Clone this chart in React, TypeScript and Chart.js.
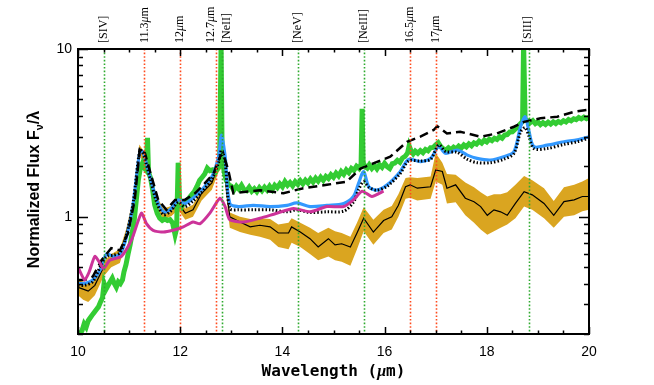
import React, { useEffect, useRef } from 'react';
import { Chart, registerables } from 'chart.js';

Chart.register(...registerables);

// ---------- data ----------
const bandWl = [10.0, 10.1, 10.2, 10.33, 10.5, 10.65, 10.82, 10.95, 11.08, 11.2, 11.34, 11.5, 11.67, 11.83, 11.96, 12.1, 12.25, 12.42, 12.62, 12.75, 12.84, 12.97, 13.17, 13.37, 13.56, 13.76, 13.92, 14.12, 14.18, 14.35, 14.54, 14.7, 14.9, 15.03, 15.16, 15.33, 15.46, 15.59, 15.78, 15.98, 16.14, 16.27, 16.41, 16.5, 16.64, 16.9, 17.0, 17.13, 17.22, 17.39, 17.58, 17.75, 17.88, 18.01, 18.14, 18.27, 18.4, 18.56, 18.73, 18.89, 19.12, 19.31, 19.51, 19.71, 19.87, 20.0];
const bandMid = [0.38, 0.37, 0.36, 0.39, 0.5, 0.56, 0.6, 0.8, 1.2, 2.55, 2.2, 1.32, 1.05, 1.1, 1.2, 1.05, 1.1, 1.38, 1.59, 2.05, 2.18, 1.0, 0.93, 0.87, 0.89, 0.87, 0.8, 0.8, 0.87, 0.81, 0.74, 0.66, 0.74, 0.68, 0.69, 0.66, 0.8, 0.98, 0.81, 0.95, 1.0, 1.17, 1.51, 1.55, 1.48, 1.51, 1.9, 1.86, 1.48, 1.55, 1.29, 1.23, 1.15, 1.02, 1.1, 1.07, 1.02, 1.2, 1.41, 1.35, 1.2, 1.02, 1.23, 1.26, 1.32, 1.32];
const bandLow = [0.34, 0.32, 0.31, 0.34, 0.44, 0.5, 0.53, 0.72, 1.08, 2.3, 2.0, 1.2, 0.96, 1.01, 1.1, 0.96, 1.0, 1.25, 1.45, 1.85, 2.0, 0.86, 0.81, 0.78, 0.76, 0.73, 0.66, 0.64, 0.7, 0.66, 0.6, 0.55, 0.58, 0.55, 0.54, 0.51, 0.64, 0.82, 0.68, 0.8, 0.84, 1.0, 1.28, 1.3, 1.25, 1.28, 1.62, 1.55, 1.2, 1.22, 1.02, 0.92, 0.84, 0.78, 0.82, 0.86, 0.9, 0.98, 1.15, 1.1, 0.98, 0.86, 1.0, 1.02, 1.08, 1.1];
const bandHigh = [0.42, 0.41, 0.4, 0.43, 0.54, 0.6, 0.64, 0.86, 1.3, 2.7, 2.32, 1.4, 1.12, 1.16, 1.28, 1.12, 1.18, 1.46, 1.68, 2.18, 2.3, 1.06, 1.0, 0.97, 0.98, 0.97, 0.9, 0.92, 0.98, 0.92, 0.86, 0.8, 0.86, 0.82, 0.8, 0.76, 0.92, 1.14, 0.96, 1.1, 1.16, 1.36, 1.7, 1.72, 1.7, 1.74, 2.4, 2.1, 1.8, 1.78, 1.6, 1.5, 1.4, 1.32, 1.36, 1.36, 1.4, 1.55, 1.75, 1.65, 1.48, 1.24, 1.5, 1.55, 1.62, 1.7];

const greenWl = [10.0, 10.04, 10.08, 10.12, 10.16, 10.2, 10.24, 10.28, 10.32, 10.36, 10.4, 10.44, 10.48, 10.51, 10.55, 10.59, 10.63, 10.67, 10.71, 10.75, 10.79, 10.83, 10.87, 10.9, 10.94, 10.98, 11.02, 11.06, 11.1, 11.14, 11.18, 11.22, 11.26, 11.3, 11.33, 11.36, 11.38, 11.42, 11.46, 11.5, 11.55, 11.6, 11.65, 11.7, 11.75, 11.8, 11.85, 11.9, 11.93, 11.96, 11.99, 12.03, 12.08, 12.13, 12.18, 12.23, 12.28, 12.33, 12.38, 12.43, 12.48, 12.53, 12.58, 12.63, 12.68, 12.73, 12.77, 12.8, 12.82, 12.86, 12.9, 12.95, 13.0, 13.05, 13.1, 13.15, 13.2, 13.25, 13.3, 13.35, 13.4, 13.45, 13.5, 13.55, 13.6, 13.65, 13.7, 13.75, 13.8, 13.85, 13.9, 13.95, 14.0, 14.05, 14.1, 14.15, 14.2, 14.25, 14.3, 14.35, 14.4, 14.45, 14.5, 14.55, 14.6, 14.65, 14.7, 14.75, 14.8, 14.85, 14.9, 14.95, 15.0, 15.05, 15.1, 15.15, 15.2, 15.25, 15.3, 15.35, 15.4, 15.45, 15.5, 15.54, 15.56, 15.58, 15.62, 15.66, 15.7, 15.75, 15.8, 15.85, 15.9, 15.95, 16.0, 16.05, 16.1, 16.15, 16.2, 16.25, 16.3, 16.35, 16.4, 16.45, 16.48, 16.52, 16.56, 16.6, 16.65, 16.7, 16.75, 16.8, 16.85, 16.9, 16.95, 17.0, 17.05, 17.1, 17.15, 17.2, 17.25, 17.3, 17.35, 17.4, 17.45, 17.5, 17.55, 17.6, 17.65, 17.7, 17.75, 17.8, 17.85, 17.9, 17.95, 18.0, 18.05, 18.1, 18.15, 18.2, 18.25, 18.3, 18.35, 18.4, 18.45, 18.5, 18.55, 18.6, 18.65, 18.7, 18.72, 18.75, 18.8, 18.85, 18.9, 18.95, 19.0, 19.05, 19.1, 19.15, 19.2, 19.25, 19.3, 19.35, 19.4, 19.45, 19.5, 19.55, 19.6, 19.65, 19.7, 19.75, 19.8, 19.85, 19.9, 19.95, 20.0];
const greenFlux = [0.19, 0.2, 0.21, 0.23, 0.22, 0.24, 0.25, 0.26, 0.27, 0.28, 0.29, 0.31, 0.33, 0.4, 0.37, 0.39, 0.41, 0.43, 0.4, 0.38, 0.41, 0.4, 0.42, 0.47, 0.52, 0.6, 0.68, 0.8, 0.95, 1.25, 1.65, 1.95, 2.08, 1.95, 1.9, 2.95, 1.85, 1.7, 1.45, 1.18, 1.05, 0.98, 0.95, 0.97, 0.95, 0.96, 0.92, 0.78, 0.85, 2.1, 1.2, 1.15, 1.22, 1.25, 1.3, 1.36, 1.42, 1.52, 1.65, 1.72, 1.8, 1.95, 1.88, 1.9, 1.82, 1.95, 2.0, 10.5, 2.4, 1.85, 1.65, 1.55, 1.52, 1.44, 1.52, 1.46, 1.54, 1.45, 1.43, 1.5, 1.42, 1.47, 1.41, 1.49, 1.43, 1.5, 1.44, 1.52, 1.45, 1.54, 1.49, 1.57, 1.51, 1.62, 1.54, 1.6, 1.53, 1.62, 1.56, 1.64, 1.57, 1.65, 1.59, 1.68, 1.61, 1.7, 1.63, 1.72, 1.65, 1.74, 1.69, 1.78, 1.72, 1.82, 1.75, 1.86, 1.79, 1.9, 1.83, 1.94, 1.89, 2.0, 1.94, 2.06, 4.4, 2.1, 1.99, 1.95, 2.04, 1.94, 2.02, 1.93, 2.04, 1.97, 2.08, 1.99, 1.94, 2.07, 2.09, 2.17, 2.11, 2.24, 2.29, 2.4, 2.65, 2.46, 2.37, 2.46, 2.39, 2.48, 2.41, 2.52, 2.47, 2.58, 2.59, 2.68, 2.76, 2.62, 2.54, 2.5, 2.58, 2.51, 2.6, 2.54, 2.64, 2.57, 2.68, 2.61, 2.72, 2.65, 2.76, 2.71, 2.82, 2.75, 2.86, 2.79, 2.9, 2.84, 2.94, 2.89, 3.0, 2.94, 3.07, 3.09, 3.2, 3.21, 3.32, 3.41, 3.56, 3.7, 11.0, 3.8, 3.74, 3.64, 3.74, 3.59, 3.68, 3.54, 3.64, 3.55, 3.66, 3.57, 3.68, 3.59, 3.7, 3.63, 3.74, 3.67, 3.8, 3.73, 3.84, 3.79, 3.9, 3.83, 3.92, 3.85, 3.93];

const blueWl = [10.0, 10.13, 10.29, 10.43, 10.56, 10.69, 10.82, 10.95, 11.08, 11.21, 11.27, 11.41, 11.54, 11.67, 11.8, 11.96, 12.09, 12.25, 12.42, 12.62, 12.75, 12.81, 12.88, 12.97, 13.14, 13.43, 13.76, 14.09, 14.28, 14.54, 14.87, 15.2, 15.39, 15.49, 15.59, 15.69, 15.85, 16.05, 16.3, 16.47, 16.7, 16.9, 17.06, 17.19, 17.42, 17.62, 17.81, 18.07, 18.33, 18.53, 18.66, 18.75, 18.82, 18.92, 19.18, 19.51, 19.77, 20.0];
const blueFlux = [0.4, 0.4, 0.42, 0.48, 0.6, 0.58, 0.6, 0.76, 1.2, 2.44, 2.44, 1.73, 1.26, 1.07, 1.1, 1.26, 1.2, 1.29, 1.44, 1.73, 2.28, 3.07, 2.28, 1.2, 1.15, 1.17, 1.15, 1.17, 1.21, 1.15, 1.17, 1.2, 1.32, 1.58, 1.86, 1.51, 1.44, 1.55, 1.85, 2.2, 2.13, 2.23, 2.62, 2.39, 2.5, 2.33, 2.23, 2.18, 2.28, 2.44, 3.44, 3.95, 3.29, 2.62, 2.67, 2.8, 2.87, 3.0];

const dottedWl = [10.0, 10.13, 10.29, 10.43, 10.56, 10.69, 10.82, 10.95, 11.08, 11.21, 11.27, 11.41, 11.54, 11.67, 11.8, 11.96, 12.09, 12.25, 12.42, 12.62, 12.75, 12.81, 12.88, 12.97, 13.14, 13.43, 13.76, 14.09, 14.28, 14.54, 14.87, 15.2, 15.39, 15.49, 15.59, 15.69, 15.85, 16.05, 16.3, 16.47, 16.7, 16.9, 17.06, 17.19, 17.42, 17.62, 17.81, 18.07, 18.33, 18.53, 18.66, 18.75, 18.82, 18.92, 19.18, 19.51, 19.77, 20.0];
const dottedFlux = [0.39, 0.39, 0.41, 0.5, 0.58, 0.59, 0.61, 0.78, 1.22, 2.5, 2.4, 1.7, 1.22, 1.03, 1.07, 1.22, 1.15, 1.24, 1.4, 1.68, 2.1, 2.5, 2.1, 1.12, 1.1, 1.1, 1.1, 1.07, 1.1, 1.06, 1.07, 1.08, 1.22, 1.45, 1.62, 1.5, 1.44, 1.52, 1.8, 2.15, 2.15, 2.2, 2.68, 2.45, 2.42, 2.2, 2.1, 2.1, 2.2, 2.38, 3.2, 3.4, 3.05, 2.55, 2.55, 2.7, 2.8, 2.95];

const dashedWl = [10.0, 10.13, 10.29, 10.46, 10.65, 10.82, 10.98, 11.11, 11.21, 11.31, 11.44, 11.57, 11.73, 11.9, 12.09, 12.29, 12.48, 12.65, 12.78, 12.84, 12.94, 13.04, 13.56, 14.02, 14.41, 14.87, 15.26, 15.53, 15.78, 16.11, 16.44, 16.7, 16.96, 17.03, 17.22, 17.48, 17.88, 18.2, 18.53, 18.73, 19.05, 19.38, 19.71, 20.0];
const dashedFlux = [0.42, 0.42, 0.44, 0.55, 0.65, 0.63, 0.8, 1.26, 2.56, 2.39, 1.73, 1.26, 1.1, 1.26, 1.26, 1.38, 1.58, 1.81, 2.28, 2.39, 1.9, 1.38, 1.44, 1.38, 1.48, 1.55, 1.62, 1.94, 2.08, 2.28, 2.8, 3.0, 3.29, 3.47, 3.14, 3.21, 3.0, 3.14, 3.44, 3.68, 3.86, 3.95, 4.22, 4.35];

const magentaWl = [10.0, 10.13, 10.22, 10.33, 10.43, 10.5, 10.62, 10.85, 11.05, 11.24, 11.34, 11.47, 11.67, 11.86, 12.06, 12.25, 12.39, 12.58, 12.78, 12.88, 12.97, 13.24, 13.56, 13.89, 14.22, 14.54, 14.87, 15.2, 15.39, 15.56, 15.75, 15.98];
const magentaFlux = [0.5, 0.42, 0.47, 0.58, 0.53, 0.49, 0.55, 0.58, 0.73, 1.05, 0.91, 0.83, 0.81, 0.83, 0.87, 0.93, 0.91, 1.05, 1.29, 1.15, 0.96, 0.93, 0.98, 1.05, 1.12, 1.07, 1.15, 1.15, 1.26, 1.42, 1.32, 1.42];

// spectral feature markers
const featureLabels = ['[SIV]', '11.3μm', '12μm', '12.7μm', '[NeII]', '[NeV]', '[NeIII]', '16.5μm', '17μm', '[SIII]'];
const featureWl = [10.5, 11.3, 12.0, 12.7, 12.81, 14.3, 15.6, 16.5, 17.0, 18.82];
const featureLabelWl = [10.5, 11.3, 12.0, 12.6, 12.92, 14.3, 15.6, 16.5, 17.0, 18.8];
const featureKind = ['ion', 'pah', 'pah', 'pah', 'ion', 'ion', 'ion', 'pah', 'pah', 'ion'];

const xTickLabels = [10, 12, 14, 16, 18, 20];
const yTickLabels = [1, 10];

// ---------- styling ----------
const SERIF = '"Liberation Serif", "Times New Roman", serif';
const SANS = '"Liberation Sans", Arial, sans-serif';
const MONO = '"DejaVu Sans Mono", monospace';

const pts = (xs: number[], ys: number[]) => xs.map((x, i) => ({ x, y: ys[i] }));

type Part = [string, string, number?];

function drawRun(ctx: CanvasRenderingContext2D, parts: Part[], x: number, y: number, align: 'left' | 'center') {
  ctx.textAlign = 'left';
  let total = 0;
  const widths = parts.map(([t, f]) => {
    ctx.font = f;
    const w = ctx.measureText(t).width;
    total += w;
    return w;
  });
  let cx = align === 'center' ? x - total / 2 : x;
  parts.forEach(([t, f, dy], i) => {
    ctx.font = f;
    ctx.fillText(t, cx, y + (dy || 0));
    cx += widths[i];
  });
}

function muParts(label: string, normal: string, italic: string): Part[] {
  const out: Part[] = [];
  const segs = label.split('μ');
  segs.forEach((s, i) => {
    if (i > 0) out.push(['μ', italic]);
    if (s) out.push([s, normal]);
  });
  return out;
}

const overlay = {
  id: 'overlay',
  beforeDraw(chart: any) {
    const ctx = chart.ctx;
    ctx.save();
    ctx.fillStyle = '#ffffff';
    ctx.fillRect(0, 0, chart.width, chart.height);
    ctx.restore();
  },
  afterDatasetsDraw(chart: any) {
    const ctx = chart.ctx;
    const { left, right, top, bottom } = chart.chartArea;
    const xs = chart.scales.x;
    ctx.save();
    ctx.beginPath();
    ctx.rect(left, top, right - left, bottom - top);
    ctx.clip();
    ctx.lineWidth = 1.6;
    ctx.setLineDash([1.6, 2]);
    featureWl.forEach((w, i) => {
      const px = Math.round(xs.getPixelForValue(w)) + 0.5;
      ctx.strokeStyle = featureKind[i] === 'ion' ? '#2eaa2e' : '#ff4a1c';
      ctx.beginPath();
      ctx.moveTo(px, top);
      ctx.lineTo(px, bottom);
      ctx.stroke();
    });
    ctx.restore();
  },
  afterDraw(chart: any) {
    const ctx = chart.ctx;
    const { left, right, top, bottom } = chart.chartArea;
    const xs = chart.scales.x;
    const ys = chart.scales.y;
    ctx.save();
    ctx.strokeStyle = '#000';
    ctx.setLineDash([]);
    // ticks
    ctx.lineWidth = 1.5;
    ctx.beginPath();
    for (let v = xs.min; v <= xs.max + 1e-9; v += 0.5) {
      const px = Math.round(xs.getPixelForValue(v)) + 0.5;
      const major = Math.abs(v / 2 - Math.round(v / 2)) < 1e-6;
      const len = major ? 7 : 3.5;
      ctx.moveTo(px, bottom);
      ctx.lineTo(px, bottom - len);
      ctx.moveTo(px, top);
      ctx.lineTo(px, top + len);
    }
    for (let d = 0.1; d <= 10; d *= 10) {
      for (let m = 1; m <= 9; m++) {
        const v = d * m;
        if (v < ys.min - 1e-9 || v > ys.max + 1e-9) continue;
        const py = Math.round(ys.getPixelForValue(v)) + 0.5;
        const len = m === 1 ? 10 : 5;
        ctx.moveTo(left, py);
        ctx.lineTo(left + len, py);
        ctx.moveTo(right, py);
        ctx.lineTo(right - len, py);
      }
    }
    ctx.stroke();
    // frame
    ctx.lineWidth = 2;
    ctx.strokeRect(left, top, right - left, bottom - top);

    // feature labels (rotated)
    ctx.fillStyle = '#000';
    ctx.textBaseline = 'middle';
    featureLabels.forEach((lab, i) => {
      const px = xs.getPixelForValue(featureLabelWl[i]);
      ctx.save();
      ctx.translate(px, top - 6);
      ctx.rotate(-Math.PI / 2);
      drawRun(ctx, muParts(lab, `12px ${SERIF}`, `italic 12px ${SERIF}`), 0, 0, 'left');
      ctx.restore();
    });

    // y title
    ctx.save();
    ctx.translate(35, (top + bottom) / 2 - 2);
    ctx.rotate(-Math.PI / 2);
    ctx.textBaseline = 'middle';
    drawRun(ctx, [
      ['Normalized Flux F', `bold 16px ${SANS}`],
      ['ν', `bold 11px ${SANS}`, 5],
      ['/λ', `bold 16px ${SANS}`],
    ], 0, 0, 'center');
    ctx.restore();

    // x title
    ctx.textBaseline = 'middle';
    drawRun(ctx, [
      ['Wavelength (', `bold 16px ${MONO}`],
      ['μ', `italic bold 16px ${SERIF}`],
      ['m)', `bold 16px ${MONO}`],
    ], (left + right) / 2, 372, 'center');
    ctx.restore();
  },
};

export default function App() {
  const ref = useRef<HTMLCanvasElement>(null);
  useEffect(() => {
    if (!ref.current) return;
    const line = (data: any, color: string, width: number, order: number, extra: any = {}) => ({
      data,
      borderColor: color,
      borderWidth: width,
      pointRadius: 0,
      fill: false,
      tension: 0,
      order,
      clip: 0,
      ...extra,
    });
    const chart = new Chart(ref.current, {
      type: 'line',
      data: {
        datasets: [
          line(pts(bandWl, bandLow), 'rgba(0,0,0,0)', 0, 10),
          line(pts(bandWl, bandHigh), 'rgba(0,0,0,0)', 0, 9, { fill: '-1', backgroundColor: '#daa520' }),
          line(pts(bandWl, bandMid), '#000000', 1.2, 8),
          line(pts(greenWl, greenFlux), '#33cc33', 5, 7),
          line(pts(blueWl, blueFlux), '#3399ff', 3.2, 6, { tension: 0.3 }),
          line(pts(dottedWl, dottedFlux), '#000000', 3, 5, { tension: 0.3, borderDash: [1.5, 2] }),
          line(pts(dashedWl, dashedFlux), '#000000', 2.5, 4, { borderDash: [9, 5] }),
          line(pts(magentaWl, magentaFlux), '#cc3399', 3, 3, { tension: 0.2 }),
        ],
      },
      options: {
        responsive: false,
        animation: false,
        events: [],
        layout: { padding: { left: 0, right: 65, top: 49, bottom: 0 } },
        plugins: { legend: { display: false }, tooltip: { enabled: false } },
        scales: {
          x: {
            type: 'linear',
            min: 10,
            max: 20,
            afterBuildTicks: (s: any) => {
              s.ticks = xTickLabels.map((v) => ({ value: v }));
            },
            ticks: {
              color: '#000',
              font: { family: SANS, size: 14 },
              padding: 10,
              maxRotation: 0,
              autoSkip: false,
            },
            grid: { display: false, drawTicks: false },
            border: { display: false },
            afterFit: (s: any) => {
              s.height = 51;
            },
          },
          y: {
            type: 'logarithmic',
            min: 0.2,
            max: 10,
            afterBuildTicks: (s: any) => {
              s.ticks = yTickLabels.map((v) => ({ value: v }));
            },
            ticks: {
              color: '#000',
              font: { family: SANS, size: 14 },
              padding: 6,
              autoSkip: false,
              callback: (v: any) => String(v),
            },
            grid: { display: false, drawTicks: false },
            border: { display: false },
            afterFit: (s: any) => {
              s.width = 78;
            },
          },
        },
      },
      plugins: [overlay],
    } as any);
    return () => chart.destroy();
  }, []);
  return (
    <div style={{ position: 'fixed', left: 0, top: 0, width: 654, height: 385, background: '#fff' }}>
      <canvas ref={ref} width={654} height={385} style={{ display: 'block', width: 654, height: 385 }} />
    </div>
  );
}
